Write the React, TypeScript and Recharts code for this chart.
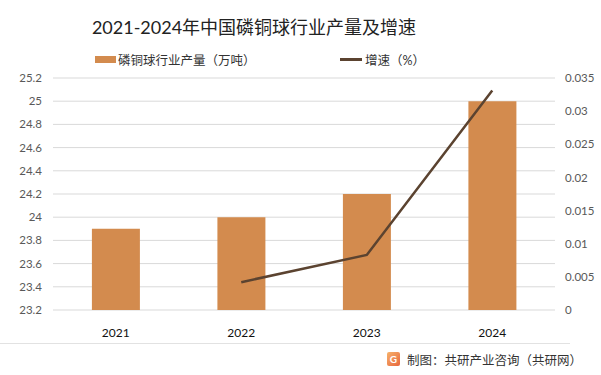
import { ComposedChart, Bar, Line, XAxis, YAxis, CartesianGrid } from 'recharts';

const years = ['2021', '2022', '2023', '2024'];
const output = [23.9, 24.0, 24.2, 25.0]; // 万吨
const growth = [null, 0.0042, 0.0083, 0.0331];
const leftTicks = [23.2, 23.4, 23.6, 23.8, 24, 24.2, 24.4, 24.6, 24.8, 25, 25.2];
const rightTicks = [0, 0.005, 0.01, 0.015, 0.02, 0.025, 0.03, 0.035];

const data = years.map((y, i) => ({ year: y, output: output[i], growth: growth[i] }));

const FONT = "Lato, 'Noto Sans CJK SC', sans-serif";
const BAR = '#D38B4E';
const LINE = '#5B4330';

export default function App() {
	return (
		<div style={{ position: 'absolute', left: 0, top: 0, width: 601, height: 375, background: '#fff', fontFamily: FONT, overflow: 'hidden' }}>
			<div style={{ position: 'absolute', left: 0, width: 508, top: 13, textAlign: 'center', fontSize: 18, color: '#222' }}>
				2021-2024年中国磷铜球行业产量及增速
			</div>
			{/* legend */}
			<div style={{ position: 'absolute', left: 95, top: 56, width: 21, height: 7, background: BAR }} />
			<div style={{ position: 'absolute', left: 118, top: 50, fontSize: 12.5, color: '#333' }}>磷铜球行业产量（万吨）</div>
			<div style={{ position: 'absolute', left: 340, top: 58, width: 22, height: 3, background: LINE }} />
			<div style={{ position: 'absolute', left: 365, top: 50, fontSize: 12.5, color: '#333' }}>增速（%）</div>

			<ComposedChart width={601} height={375} data={data} margin={{ top: 78, right: 0, bottom: 0, left: 0 }} barCategoryGap="31%">
				<CartesianGrid yAxisId="left" vertical={false} stroke="#d9d9d9" />
				<XAxis dataKey="year" height={65} axisLine={false} tickLine={false} tickMargin={12}
					tick={{ fontSize: 12, fill: '#111', fontFamily: FONT }} />
				<YAxis yAxisId="left" width={53} domain={[23.2, 25.2]} ticks={leftTicks} axisLine={false} tickLine={false}
					tickSize={0} tickMargin={11} interval={0}
					tickFormatter={(v: number) => String(Number(v.toFixed(1)))}
					tick={{ fontSize: 11.5, fill: '#595959', fontFamily: FONT }} />
				<YAxis yAxisId="right" orientation="right" width={46} domain={[0, 0.035]} ticks={rightTicks} axisLine={false} tickLine={false}
					tickSize={0} tickMargin={10} interval={0}
					tickFormatter={(v: number) => String(Number(v.toFixed(3)))}
					tick={{ fontSize: 11.5, fill: '#595959', fontFamily: FONT, textAnchor: 'start' }} />
				<Bar yAxisId="left" dataKey="output" fill={BAR} isAnimationActive={false} />
				<Line yAxisId="right" dataKey="growth" stroke={LINE} strokeWidth={2.5} dot={false} type="linear" isAnimationActive={false} />
			</ComposedChart>

			{/* footer */}
			<div style={{ position: 'absolute', left: 0, top: 343, width: 570, height: 1, background: '#e2e2e2' }} />
			<div style={{ position: 'absolute', left: 387, top: 352, width: 13, height: 14, borderRadius: 2, background: 'linear-gradient(135deg, #f6b26b, #e8663d)', color: '#fff', fontSize: 10, lineHeight: '14px', textAlign: 'center', fontWeight: 700 }}>G</div>
			<div style={{ position: 'absolute', left: 407, top: 350, fontSize: 12.5, color: '#333' }}>制图：共研产业咨询（共研网）</div>
		</div>
	);
}
